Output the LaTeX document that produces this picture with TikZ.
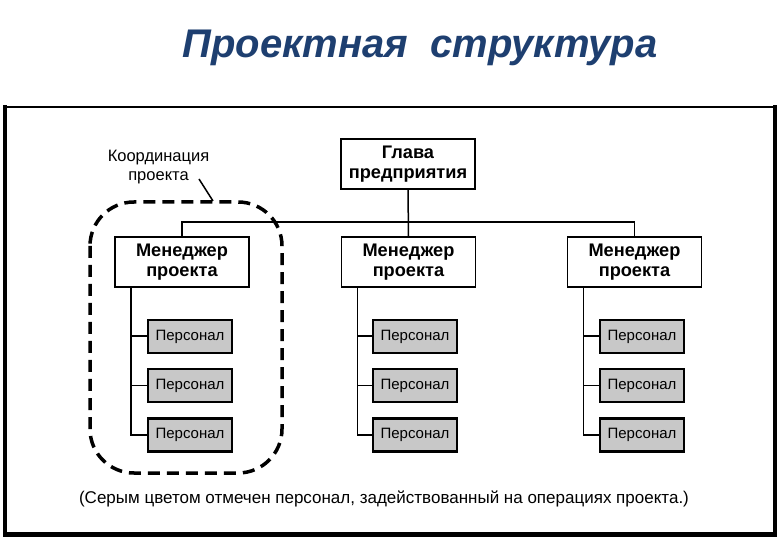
\documentclass[tikz,border=0pt]{standalone}
\usepackage{fontspec}
\setmainfont{Liberation Sans}
\definecolor{titleblue}{RGB}{30,63,112}
\definecolor{persgray}{RGB}{200,200,200}
\begin{document}
\begin{tikzpicture}[x=1pt,y=-1pt,
  mgr/.style={draw=black,line width=1.8pt,fill=white,minimum width=134pt,minimum height=50pt,
    inner sep=0pt,align=center,font=\fontsize{18.2}{19.5}\selectfont\bfseries},
  pers/.style={draw=black,line width=2.2pt,fill=persgray,minimum width=84pt,minimum height=33pt,
    inner sep=0pt,font=\fontsize{15}{17}\selectfont},
  conn/.style={line width=1.5pt},
  tick/.style={line width=2pt}]
\useasboundingbox (0,0) rectangle (780,540);
\fill[white] (0,0) rectangle (780,540);
% title
\node[anchor=base,inner sep=0pt] (title) at (420,58) {\fontsize{40}{44}\selectfont\bfseries\itshape\color{titleblue}Проектная\ \ структура};
% frame
\draw[line width=1.5pt] (5,107) rectangle (775,533);
\draw[line width=4pt] (5,105.5) -- (5,535) -- (775,535) -- (775,105.5);
% head
\node[mgr] (g) at (408,164) {Глава\\предприятия};
\node[mgr] (m1) at (182,262) {Менеджер\\проекта};
\node[mgr] (m2) at (408.5,262) {Менеджер\\проекта};
\node[mgr] (m3) at (634.5,262) {Менеджер\\проекта};
\coordinate (bar) at (408,222);
\draw[conn] (g.south) -- (m2.north);
\draw[conn] (m1.north) |- (bar) -| (m3.north);
% personnel
\foreach \c/\x in {1/190,2/415,3/642}{
  \node[pers] (p\c1) at (\x,336.5) {Персонал};
  \node[pers] (p\c2) at (\x,385.5) {Персонал};
  \node[pers] (p\c3) at (\x,435) {Персонал};
  \coordinate (s\c) at ([xshift=17pt]m\c.south west);
  \draw[conn] (s\c) |- (p\c3.west);
  \draw[tick] (p\c1.west) -- (p\c1.west -| s\c);
  \draw[conn] (p\c2.west) -- (p\c2.west -| s\c);
  \draw[tick] (p\c3.west) -- (p\c3.west -| s\c);
}
% coordination
\draw[line width=3.5pt,dash pattern=on 12pt off 7pt,rounded corners=44pt] (90,202) rectangle (282,473);
\node[align=center,font=\fontsize{16.5}{19}\selectfont,inner sep=0pt] (lbl) at (158.5,167) {Координация\\проекта};
\coordinate (la) at (199,179);
\coordinate (lb) at (213,201);
\draw[line width=1.5pt] (la) -- (lb);
% footer
\node[anchor=base,font=\fontsize{17}{20}\selectfont,inner sep=0pt] (foot) at (384,503) {(Серым цветом отмечен персонал, задействованный на операциях проекта.)};
\end{tikzpicture}
\end{document}
